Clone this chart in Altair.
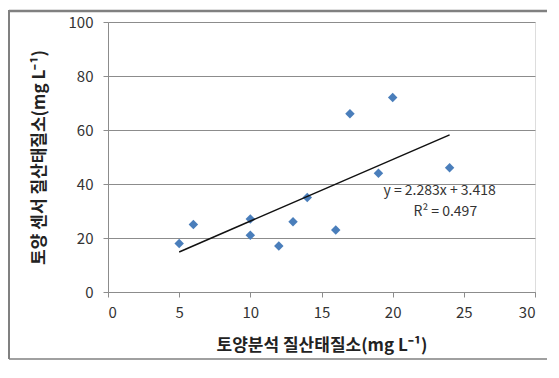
import altair as alt
import pandas as pd

x_vals = [5, 6, 10, 10, 12, 13, 14, 16, 17, 19, 20, 24]
y_vals = [18, 25, 27, 21, 17, 26, 35, 23, 66, 44, 72, 46]
slope = 2.283
intercept = 3.418
fit_x = [5, 24]
fit_y = [slope * v + intercept for v in fit_x]
labels = ["y = 2.283x + 3.418", "R² = 0.497"]
label_x = [23.3, 23.7]
label_y = [37.3, 29.5]

FONT = "Noto Sans CJK KR"
GRID = "#8c8c8c"
FRAME = "#808080"

pts = pd.DataFrame({"x": x_vals, "y": y_vals})
fit = pd.DataFrame({"x": fit_x, "y": fit_y})
txt = pd.DataFrame({"x": label_x, "y": label_y, "t": labels})

xs = alt.Scale(domain=[0, 30], nice=False)
ys = alt.Scale(domain=[0, 100], nice=False)

xaxis = alt.Axis(values=[0, 5, 10, 15, 20, 25, 30], grid=False, title="토양분석 질산태질소(mg L⁻¹)",
                 titleFont=FONT, titleFontSize=17, titleFontWeight="bold", titleColor="#222",
                 titlePadding=17, labelFont=FONT, labelFontSize=15, labelColor="#333",
                 labelPadding=8, domainColor=GRID, tickColor=GRID, tickSize=5)
yaxis = alt.Axis(values=[0, 20, 40, 60, 80, 100], grid=True, gridColor=GRID, title="토양 센서 질산태질소(mg L⁻¹)",
                 titleFont=FONT, titleFontSize=17, titleFontWeight="bold", titleColor="#222",
                 titlePadding=20, labelFont=FONT, labelFontSize=15, labelColor="#333",
                 labelPadding=10, domainColor=GRID, tickColor=GRID, tickSize=5)

one = pd.DataFrame({"a": [0]})
frame_top = alt.Chart(one).mark_rule(color=FRAME, strokeWidth=2.5, clip=False).encode(
    x=alt.value(-99), x2=alt.value(450), y=alt.value(-11))
frame_bottom = alt.Chart(one).mark_rule(color=FRAME, strokeWidth=1.5, clip=False).encode(
    x=alt.value(-99), x2=alt.value(450), y=alt.value(337))
frame_left = alt.Chart(one).mark_rule(color=FRAME, strokeWidth=2, clip=False).encode(
    x=alt.value(-99), y=alt.value(-12), y2=alt.value(337))

points = alt.Chart(pts).mark_point(shape="diamond", filled=True, color="#4a7ebb", size=90, opacity=1).encode(
    x=alt.X("x:Q", scale=xs, axis=xaxis),
    y=alt.Y("y:Q", scale=ys, axis=yaxis),
)

line = alt.Chart(fit).mark_line(color="#111", strokeWidth=1.5).encode(
    x=alt.X("x:Q", scale=xs), y=alt.Y("y:Q", scale=ys)
)

text = alt.Chart(txt).mark_text(font=FONT, fontSize=14, color="#333", align="center").encode(
    x=alt.X("x:Q", scale=xs), y=alt.Y("y:Q", scale=ys), text="t:N"
)

chart = alt.layer(frame_top, frame_bottom, frame_left, points, line, text).properties(
    width=427, height=270,
    autosize=alt.AutoSizeParams(type="none"),
    padding={"left": 100, "top": 14, "right": 12, "bottom": 68},
).configure_view(stroke=None).configure(background="white")

chart.save("out.html", embed_options={"renderer": "svg", "actions": False})
